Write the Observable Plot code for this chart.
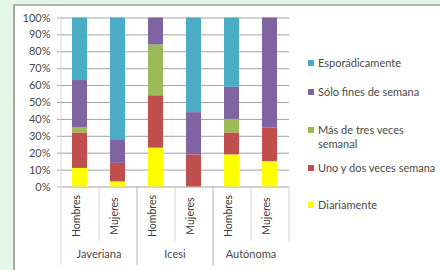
<!DOCTYPE html>
<html>
<head>
<meta charset="utf-8">
<script src="https://cdn.jsdelivr.net/npm/d3@7"></script>
<script src="https://cdn.jsdelivr.net/npm/@observablehq/plot@0.6"></script>
<style>
  html, body { margin: 0; padding: 0; width: 440px; height: 270px; overflow: hidden; background: #e3f7e8; }
  #box { position: absolute; left: 13px; top: 4px; width: 430px; height: 270px; background: #fff;
         border-left: 2px solid #a8a8a8; border-top: 2px solid #b4b4b4; }
  #chart { position: absolute; left: 0; top: 0; }
  .leg { position: absolute; left: 308px; font-family: Lato, sans-serif; font-size: 11px; color: #4a4a4a; white-space: nowrap; line-height: 14px; }
  .leg span.sw { display: inline-block; width: 6px; height: 6px; margin-right: 4px; vertical-align: 1px; }
</style>
</head>
<body>
<div id="box"></div>
<div id="chart"></div>
<div id="legend"></div>
<script>
const universities = ["Javeriana", "Icesi", "Autónoma"];
const genders = ["Hombres", "Mujeres"];
const series = ["Diariamente", "Uno y dos veces semana", "Más de tres veces semanal", "Sólo fines de semana", "Esporádicamente"];
const colors = ["#ffff00", "#c0504d", "#9bbb59", "#8064a2", "#4bacc6"];
// values per bar: Javeriana H, Javeriana M, Icesi H, Icesi M, Autónoma H, Autónoma M
const diariamente     = [11,  3, 23,  0, 19, 15];
const unoDos          = [21, 11, 31, 19, 13, 20];
const masTres         = [ 3,  0, 30,  0,  8,  0];
const soloFines       = [28, 14, 16, 25, 19, 65];
const esporadicamente = [37, 72,  0, 56, 41,  0];
const yTicks = [0, 10, 20, 30, 40, 50, 60, 70, 80, 90, 100];

const seriesValues = [diariamente, unoDos, masTres, soloFines, esporadicamente];
const keys = universities.flatMap(u => genders.map(g => u + "|" + g));
const rows = [];
series.forEach((s, si) => keys.forEach((k, ki) => rows.push({key: k, series: s, value: seriesValues[si][ki]})));

const half = 19;
const plot = Plot.plot({
  width: 440, height: 270,
  marginLeft: 57, marginRight: 151, marginTop: 17.5, marginBottom: 83.5,
  style: {background: "transparent", fontFamily: "Lato, sans-serif", fontSize: "11px", color: "#4a4a4a"},
  x: {domain: keys, range: [61, 289], paddingInner: 0.6, paddingOuter: 0.3, axis: null},
  y: {domain: [0, 100], axis: null},
  color: {domain: series, range: colors},
  marks: [
    Plot.gridY(yTicks, {stroke: "#a3a3a3", strokeOpacity: 1}),
    Plot.axisY(yTicks, {tickSize: 0, tickPadding: 7, label: null, tickFormat: d => d + "%", fill: "#4a4a4a"}),
    Plot.barY(rows, {x: "key", y: "value", fill: "series", order: series}),
    // left axis line
    Plot.ruleX([keys[0]], {dx: -half, y1: 100, y2: -46.5, stroke: "#d8d8d8"}),
    // group separators
    Plot.ruleX([keys[2], keys[4]], {dx: -half, y1: 0, y2: -46.5, stroke: "#b0b0b0"}),
    // inner separators
    Plot.ruleX([keys[1], keys[3], keys[5]], {dx: -half, y1: 0, y2: -32.3, stroke: "#d4d4d4"}),
    Plot.ruleX([keys[5]], {dx: half, y1: 0, y2: -32.3, stroke: "#d4d4d4"}),
    // category labels
    Plot.text(keys, {x: d => d, text: d => d.split("|")[1], frameAnchor: "bottom", dy: 29, rotate: -90,
      fontSize: 10.5, textAnchor: "middle", fill: "#3a3a3a", fontWeight: d => d.endsWith("Mujeres") ? "bold" : "normal"}),
    // group labels
    Plot.text(universities, {x: u => u + "|Hombres", dx: half, frameAnchor: "bottom", dy: 71, text: d => d, fill: "#4a4a4a"})
  ]
});
document.getElementById("chart").appendChild(plot);

// legend (top to bottom: reverse stacking order)
const legendItems = [
  {s: "Esporádicamente", top: 56},
  {s: "Sólo fines de semana", top: 85},
  {s: "Más de tres veces semanal", top: 123, lines: ["Más de tres veces", "semanal"]},
  {s: "Uno y dos veces semana", top: 161},
  {s: "Diariamente", top: 198}
];
const leg = document.getElementById("legend");
legendItems.forEach(it => {
  const d = document.createElement("div");
  d.className = "leg";
  d.style.top = it.top + "px";
  const sw = document.createElement("span");
  sw.className = "sw";
  sw.style.background = colors[series.indexOf(it.s)];
  d.appendChild(sw);
  const lines = it.lines || [it.s];
  d.appendChild(document.createTextNode(lines[0]));
  if (lines[1]) {
    d.appendChild(document.createElement("br"));
    const s2 = document.createElement("span");
    s2.style.paddingLeft = "10px";
    s2.textContent = lines[1];
    d.appendChild(s2);
  }
  leg.appendChild(d);
});
</script>
</body>
</html>
